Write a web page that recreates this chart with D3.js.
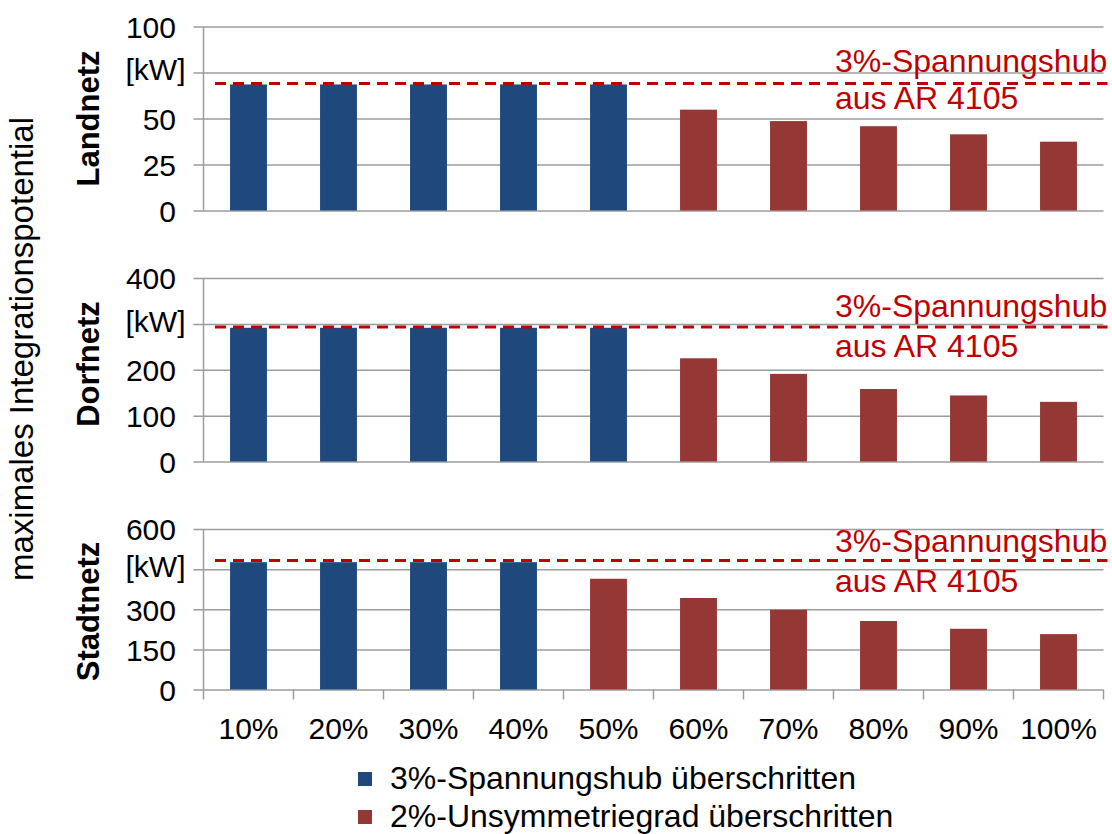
<!DOCTYPE html>
<html>
<head>
<meta charset="utf-8">
<script src="https://cdn.jsdelivr.net/npm/d3@7"></script>
<style>
  html, body { margin: 0; padding: 0; background: #ffffff; }
  svg { display: block; }
  text { font-family: "Liberation Sans", Arial, sans-serif; }
</style>
</head>
<body>
<svg id="chart" width="1112" height="834"></svg>
<script>
// Share of feed-in units (x categories)
const categories = ["10%", "20%", "30%", "40%", "50%", "60%", "70%", "80%", "90%", "100%"];

// Maximum integration potential per grid type [kW]
const landnetzValues  = [68.5, 68.5, 68.5, 68.5, 68.5, 54.8, 48.6, 45.8, 41.4, 37.4];
const dorfnetzValues  = [291.5, 291.5, 291.5, 291.5, 291.5, 225, 191, 158, 144, 130];
const stadtnetzValues = [476, 476, 476, 476, 414, 342, 298, 256, 227, 207];

// Which criterion limits each bar: "hub" = 3% voltage rise, "unsym" = 2% unbalance
const landnetzCriterion  = ["hub", "hub", "hub", "hub", "hub", "unsym", "unsym", "unsym", "unsym", "unsym"];
const dorfnetzCriterion  = ["hub", "hub", "hub", "hub", "hub", "unsym", "unsym", "unsym", "unsym", "unsym"];
const stadtnetzCriterion = ["hub", "hub", "hub", "hub", "unsym", "unsym", "unsym", "unsym", "unsym", "unsym"];

// 3% voltage-rise limit from AR 4105 per grid type [kW]
const limitValues = [69, 293, 482];

// Panel names and y tick values (second-highest tick carries the unit label)
const gridNames = ["Landnetz", "Dorfnetz", "Stadtnetz"];
const landnetzTicks  = [0, 25, 50, 75, 100];
const dorfnetzTicks  = [0, 100, 200, 300, 400];
const stadtnetzTicks = [0, 150, 300, 450, 600];
const unitLabel = "[kW]";

const limitLabelLines = ["3%-Spannungshub", "aus AR 4105"];
const yAxisTitle = "maximales Integrationspotential";
const legendLabels = ["3%-Spannungshub überschritten", "2%-Unsymmetriegrad überschritten"];

// ---- styling ----
const colors = { hub: "#1F497D", unsym: "#953735" };
const limitColor = "#C00000";
const gridColor = "#9c9c9c";

const svg = d3.select("#chart");

const plotLeft = 203.5, plotRight = 1103.5;
const panels = [
  { name: gridNames[0], values: landnetzValues,  crit: landnetzCriterion,  ticks: landnetzTicks,  limit: limitValues[0], top: 26.5, bottom: 210.5, titleY: 118.5, above: 11.5, below: 25.5 },
  { name: gridNames[1], values: dorfnetzValues,  crit: dorfnetzCriterion,  ticks: dorfnetzTicks,  limit: limitValues[1], top: 278,  bottom: 461.5, titleY: 364,   above: 10.5, below: 29.5 },
  { name: gridNames[2], values: stadtnetzValues, crit: stadtnetzCriterion, ticks: stadtnetzTicks, limit: limitValues[2], top: 529,  bottom: 689.5, titleY: 611.5, above: 8.5,  below: 31 }
];

const x = d3.scaleBand()
  .domain(categories)
  .range([plotLeft, plotRight])
  .paddingInner(0.59)
  .paddingOuter(0.295);

panels.forEach((p, pi) => {
  const ticks = p.ticks;
  const y = d3.scaleLinear()
    .domain([0, ticks[ticks.length - 1]])
    .range([p.bottom, p.top]);
  const unitTick = ticks[ticks.length - 2];

  const g = svg.append("g");

  // gridlines with short outward tick marks
  const axis = d3.axisLeft(y)
    .tickValues(ticks)
    .tickSizeInner(-(plotRight - plotLeft))
    .tickSizeOuter(0)
    .tickPadding(0)
    .tickFormat(d => d === unitTick ? "" : d3.format("d")(d));

  const ag = g.append("g")
    .attr("transform", `translate(${plotLeft},0)`)
    .call(axis);
  ag.select(".domain").remove();
  ag.selectAll(".tick line")
    .attr("x1", -10)
    .attr("stroke", gridColor)
    .attr("stroke-width", 1.5);
  ag.selectAll(".tick text")
    .attr("x", -27.5)
    .attr("dy", "0.36em")
    .attr("fill", "#000")
    .style("font-size", "30px")
    .style("font-family", "'Liberation Sans', Arial, sans-serif");

  // unit label in place of the second-highest tick value
  g.append("text")
    .attr("x", plotLeft - 18)
    .attr("y", y(unitTick) - 3)
    .attr("dy", "0.36em")
    .attr("text-anchor", "end")
    .style("font-size", "30px")
    .text(unitLabel);

  // vertical value axis line
  g.append("line")
    .attr("x1", plotLeft).attr("x2", plotLeft)
    .attr("y1", y(ticks[ticks.length - 1])).attr("y2", y(0))
    .attr("stroke", gridColor)
    .attr("stroke-width", 1.5);

  // bars
  g.selectAll("rect.bar")
    .data(categories.map((c, i) => ({ c, v: p.values[i], k: p.crit[i] })))
    .join("rect")
    .attr("class", "bar")
    .attr("x", d => x(d.c))
    .attr("width", x.bandwidth())
    .attr("y", d => y(d.v))
    .attr("height", d => y(0) - y(d.v))
    .attr("fill", d => colors[d.k]);

  // AR 4105 limit line
  const ly = y(p.limit);
  g.append("line")
    .attr("x1", 215).attr("x2", plotRight + 4)
    .attr("y1", ly).attr("y2", ly)
    .attr("stroke", limitColor)
    .attr("stroke-width", 3)
    .attr("stroke-dasharray", "11,7");

  g.append("text")
    .attr("x", 835)
    .attr("y", ly - p.above)
    .attr("fill", limitColor)
    .style("font-size", "32px")
    .text(limitLabelLines[0]);
  g.append("text")
    .attr("x", 835)
    .attr("y", ly + p.below)
    .attr("fill", limitColor)
    .style("font-size", "32px")
    .text(limitLabelLines[1]);

  // panel title
  g.append("text")
    .attr("transform", `translate(99,${p.titleY}) rotate(-90)`)
    .attr("text-anchor", "middle")
    .style("font-size", "31px")
    .style("font-weight", "bold")
    .text(p.name);

  // category axis below the last panel
  if (pi === panels.length - 1) {
    const xa = g.append("g");
    const bounds = d3.range(categories.length + 1).map(i => plotLeft + i * x.step());
    xa.selectAll("line.xt")
      .data(bounds)
      .join("line")
      .attr("class", "xt")
      .attr("x1", d => d).attr("x2", d => d)
      .attr("y1", y(0)).attr("y2", y(0) + 10)
      .attr("stroke", gridColor)
      .attr("stroke-width", 1.5);
    xa.selectAll("text.xl")
      .data(categories)
      .join("text")
      .attr("class", "xl")
      .attr("x", d => x(d) + x.bandwidth() / 2)
      .attr("y", 739)
      .attr("text-anchor", "middle")
      .style("font-size", "30px")
      .text(d => d);
  }
});

// overall value-axis title
svg.append("text")
  .attr("transform", "translate(33,349) rotate(-90)")
  .attr("text-anchor", "middle")
  .style("font-size", "33px")
  .text(yAxisTitle);

// legend
const legendKeys = ["hub", "unsym"];
const legend = svg.append("g");
legendKeys.forEach((k, i) => {
  const baseY = 789 + i * 38;
  legend.append("rect")
    .attr("x", 358).attr("y", baseY - 17)
    .attr("width", 14).attr("height", 14)
    .attr("fill", colors[k]);
  legend.append("text")
    .attr("x", 390).attr("y", baseY)
    .style("font-size", "32px")
    .text(legendLabels[i]);
});
</script>
</body>
</html>
